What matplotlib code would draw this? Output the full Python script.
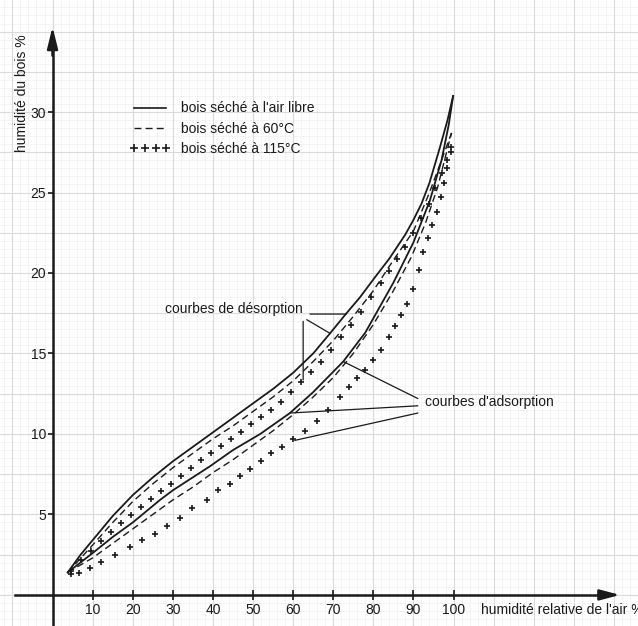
import matplotlib
matplotlib.use("Agg")
import matplotlib.pyplot as plt
from matplotlib.lines import Line2D
import numpy as np

# ---------------- data ----------------
x_ticks = [10, 20, 30, 40, 50, 60, 70, 80, 90, 100]
y_ticks = [5, 10, 15, 20, 25, 30]

# air-dried wood (solid)
air_des_x = [3.8, 7, 10, 15, 20, 25, 30, 35, 40, 45, 50, 55, 60, 65, 69.2, 73.3, 76.7, 80, 84, 88, 90, 92, 94, 96.6, 98.5, 99.9]
air_des_y = [1.4, 2.5, 3.4, 4.9, 6.2, 7.3, 8.3, 9.2, 10.1, 11.0, 11.9, 12.8, 13.8, 15.0, 16.25, 17.5, 18.5, 19.6, 20.9, 22.4, 23.3, 24.3, 25.6, 27.8, 29.5, 31.0]
air_ads_x = [3.8, 10, 15, 20, 26.8, 30, 39.3, 45, 51.8, 59.2, 65, 72.5, 78, 85, 90, 94.1, 97, 98.8, 99.9]
air_ads_y = [1.4, 2.6, 3.6, 4.5, 5.9, 6.5, 8.0, 9.0, 10.0, 11.3, 12.6, 14.5, 16.3, 19.4, 21.9, 24.5, 27.0, 29.2, 31.0]

# wood dried at 60 C (dashed)
d60_des_x = [3.8, 10, 15, 20, 25, 30, 35, 40, 45, 50, 55, 60, 65, 70, 75, 80, 85, 90, 94, 97, 99.5]
d60_des_y = [1.4, 3.1, 4.5, 5.8, 6.9, 7.9, 8.8, 9.7, 10.5, 11.4, 12.3, 13.3, 14.5, 15.8, 17.3, 18.9, 20.8, 22.6, 25.0, 27.0, 28.7]
d60_ads_x = [3.8, 10, 15, 20, 25, 30, 35, 40, 45, 50, 55, 60, 65, 70, 75, 80, 85, 89.5, 93, 96, 99.5]
d60_ads_y = [1.4, 2.3, 3.2, 4.1, 5.0, 5.9, 6.7, 7.6, 8.4, 9.3, 10.2, 11.2, 12.3, 13.5, 15.0, 16.8, 18.9, 21.0, 23.1, 25.3, 28.7]

# wood dried at 115 C (plus markers)
d115_des_x = [4.5, 7, 9.5, 12, 14.5, 17, 19.5, 22, 24.5, 27, 29.5, 32, 34.5, 37, 39.5, 42, 44.5, 47, 49.5, 52, 54.5,
              57, 59.5, 62, 64.5, 67, 69.5, 72, 74.5, 77, 79.5, 82, 84, 86, 88, 90, 92, 93.8, 95.5, 97, 98.3, 99.3]
d115_des_y = [1.5, 2.15, 2.75, 3.35, 3.9, 4.45, 4.95, 5.45, 5.95, 6.45, 6.9, 7.4, 7.9, 8.4, 8.8, 9.25, 9.7, 10.15, 10.6, 11.05, 11.5,
              12.0, 12.6, 13.2, 13.85, 14.5, 15.2, 16.0, 16.8, 17.6, 18.5, 19.4, 20.1, 20.85, 21.6, 22.5, 23.4, 24.3, 25.3, 26.2, 27.0, 27.8]
d115_ads_x = [4.5, 6.5, 9.4, 12.2, 15.6, 19.3, 22.2, 25.5, 28.5, 31.8, 34.7, 38.4, 41.3, 44.2, 46.7, 49.2, 52, 54.6, 57.3, 60,
              63, 65.9, 68.8, 71.7, 74, 76, 78, 80, 82, 84, 85.5, 87, 88.5, 90, 91.3, 92.5, 93.6, 94.7, 95.8, 96.8, 97.6, 98.4, 99.3]
d115_ads_y = [1.3, 1.35, 1.66, 2.07, 2.5, 3.0, 3.4, 3.8, 4.3, 4.8, 5.4, 5.9, 6.5, 6.9, 7.4, 7.8, 8.3, 8.8, 9.2, 9.7,
              10.2, 10.8, 11.5, 12.3, 12.9, 13.5, 14.0, 14.6, 15.2, 16.0, 16.7, 17.4, 18.1, 19.0, 20.2, 21.3, 22.2, 23.0, 23.8, 24.7, 25.6, 26.5, 27.5]

legend_labels = ["bois séché à l'air libre", "bois séché à 60°C", "bois séché à 115°C"]
y_label = "humidité du bois %"
x_label = "humidité relative de l'air %"
des_label = "courbes de désorption"
ads_label = "courbes d'adsorption"

# ---------------- styling ----------------
plt.rcParams['font.family'] = ['Liberation Sans', 'DejaVu Sans']
ink = '#1a1a1a'
fs = 10

fig = plt.figure(figsize=(6.38, 6.26), dpi=100)
ax = fig.add_axes([0, 0, 1, 1])
ax.set_xlim(-13.1, 146.0)
ax.set_ylim(-1.93, 36.96)

# graph-paper background
for gx in np.arange(-12, 147, 2):
    ax.axvline(gx, color='#f0f0f0', lw=0.5, zorder=0)
for gy in np.arange(-1.5, 37.5, 0.5):
    ax.axhline(gy, color='#f0f0f0', lw=0.5, zorder=0)
for gx in np.arange(-10, 147, 10):
    ax.axvline(gx, color='#dadada', lw=0.8, zorder=0)
for gy in np.arange(0, 37.5, 2.5):
    ax.axhline(gy, color='#dadada', lw=0.8, zorder=0)

# axes with arrows
for s in ['top', 'right']:
    ax.spines[s].set_visible(False)
ax.spines['left'].set_position(('data', 0))
ax.spines['bottom'].set_position(('data', 0))
ax.spines['left'].set_bounds(-1.93, 34.0)
ax.spines['bottom'].set_bounds(-9.4, 138.0)
for s in ['left', 'bottom']:
    ax.spines[s].set_linewidth(1.8)
    ax.spines[s].set_color(ink)
    ax.spines[s].set_zorder(3)

ax.annotate('', xy=(141.5, 0), xytext=(136, 0),
            arrowprops=dict(arrowstyle='-|>,head_length=1.2,head_width=0.32', color=ink, lw=1.8,
                            shrinkA=0, shrinkB=0))
ax.annotate('', xy=(0, 35.3), xytext=(0, 33.5),
            arrowprops=dict(arrowstyle='-|>,head_length=1.3,head_width=0.32', color=ink, lw=1.8,
                            shrinkA=0, shrinkB=0))

ax.set_xticks(x_ticks)
ax.set_xticklabels([str(v) for v in x_ticks])
ax.set_yticks(y_ticks)
ax.set_yticklabels([str(v) for v in y_ticks])
ax.tick_params(axis='x', direction='inout', length=7, width=1.2, pad=2, labelsize=fs, colors=ink)
ax.tick_params(axis='y', direction='out', length=3.5, width=1.2, pad=1.0, labelsize=fs, colors=ink)

ax.text(-7.6, 31.2, y_label, rotation=90, ha='center', va='center', fontsize=fs, color=ink)
ax.text(106.8, -0.95, x_label, ha='left', va='center', fontsize=fs, color=ink, clip_on=False)

# curves
ax.plot(air_des_x, air_des_y, color=ink, lw=1.3, zorder=4)
ax.plot(air_ads_x, air_ads_y, color=ink, lw=1.3, zorder=4)
ax.plot(d60_des_x, d60_des_y, color=ink, lw=1.0, ls=(0, (5, 3)), zorder=4)
ax.plot(d60_ads_x, d60_ads_y, color=ink, lw=1.0, ls=(0, (5, 3)), zorder=4)
ax.plot(d115_des_x, d115_des_y, color=ink, ls='none', marker='+', ms=4.5, mew=1.2, zorder=4)
ax.plot(d115_ads_x, d115_ads_y, color=ink, ls='none', marker='+', ms=4.5, mew=1.2, zorder=4)

# legend
handles = [Line2D([], [], color=ink, lw=1.2),
           Line2D([], [], color=ink, lw=1.0, ls=(0, (5, 3))),
           Line2D([], [], color=ink, ls='none', marker='+', ms=6, mew=1.2)]
leg = ax.legend(handles, legend_labels, loc='upper left', bbox_to_anchor=(0.204, 0.838),
                frameon=False, fontsize=fs, handlelength=2.9, handletextpad=0.75,
                labelspacing=0.45, numpoints=4, borderpad=0, borderaxespad=0)
for t in leg.get_texts():
    t.set_color(ink)

# annotations
ax.text(28.0, 17.75, des_label, ha='left', va='center', fontsize=fs, color=ink)
lead = dict(arrowstyle='-', color=ink, lw=0.9, shrinkA=0, shrinkB=0)
ax.annotate('', xy=(73.3, 17.45), xytext=(64.2, 17.45), arrowprops=lead)
ax.annotate('', xy=(62.5, 13.35), xytext=(62.5, 17.0), arrowprops=lead)
ax.annotate('', xy=(69.2, 16.25), xytext=(63.4, 17.1), arrowprops=lead)

ax.text(92.8, 12.0, ads_label, ha='left', va='center', fontsize=fs, color=ink)
ax.annotate('', xy=(72.5, 14.5), xytext=(91.1, 12.2), arrowprops=lead)
ax.annotate('', xy=(59.2, 11.3), xytext=(91.1, 11.75), arrowprops=lead)
ax.annotate('', xy=(60.4, 9.6), xytext=(91.1, 11.3), arrowprops=lead)

fig.savefig('out.png', dpi=100)
